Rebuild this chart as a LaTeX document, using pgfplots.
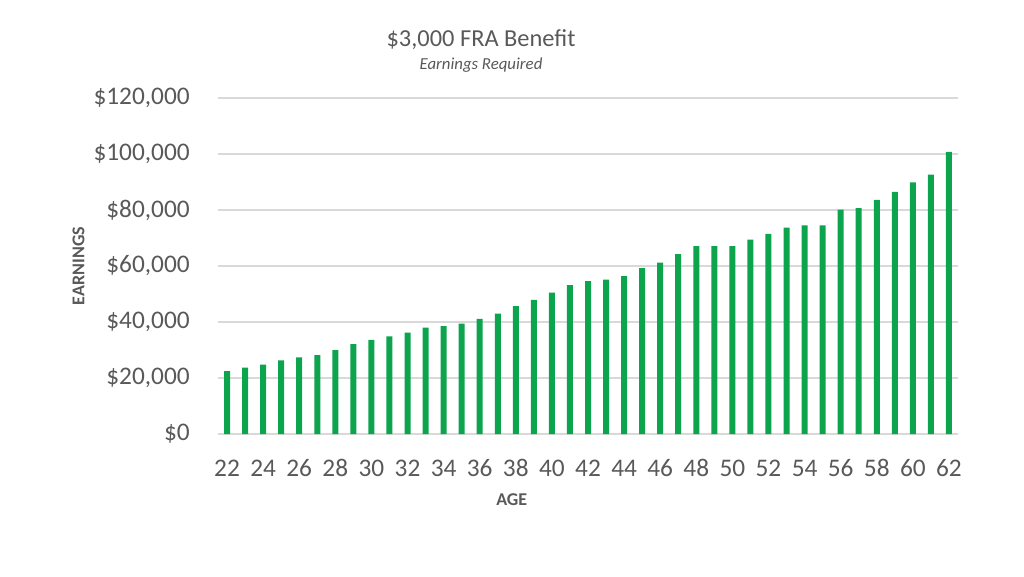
\documentclass[border=0pt]{standalone}
\usepackage{pgfplots}
\pgfplotsset{compat=1.18}
\usepackage{fontspec}
\setmainfont{Carlito}

\definecolor{barGreen}{HTML}{0CA54D}
\definecolor{txtGray}{HTML}{595959}
\definecolor{gridGray}{HTML}{D9D9D9}

\begin{document}
\begin{tikzpicture}
% page = 1024x576 px at 0.75pt per px
\path[use as bounding box] (0,0) rectangle (768pt,432pt);

\begin{axis}[
    at={(163.5pt,106.5pt)}, anchor=south west,
    scale only axis,
    width=555pt, height=252pt,
    xmin=21.5, xmax=62.5,
    ymin=0, ymax=120000,
    ytick={0,20000,...,120000},
    xtick={22,24,...,62},
    scaled y ticks=false,
    /pgf/number format/assume math mode=true,
    /pgf/number format/.cd, fixed, precision=0, 1000 sep={,},
    /pgfplots/.cd,
    yticklabel={\$\pgfmathprintnumber{\tick}},
    major tick length=0pt,
    axis x line*=bottom,
    axis y line*=left,
    x axis line style={draw=gridGray, line width=0.8pt},
    y axis line style={draw=none},
    ymajorgrids,
    grid style={draw=gridGray, line width=0.8pt},
    yticklabel style={font=\fontsize{19}{21}\selectfont, text=txtGray,
        anchor=east, inner sep=0pt, xshift=-21pt},
    xticklabel style={font=\fontsize{19}{21}\selectfont, text=txtGray,
        anchor=base, inner sep=0pt, yshift=-32pt},
]
\addplot[ybar, bar width=4.5pt, fill=barGreen, draw=none] coordinates {
  (22, 22500) (23, 23700) (24, 24800) (25, 26300) (26, 27400)
  (27, 28200) (28, 30000) (29, 32100) (30, 33600) (31, 34900)
  (32, 36200) (33, 38000) (34, 38500) (35, 39400) (36, 41100)
  (37, 43000) (38, 45700) (39, 47900) (40, 50500) (41, 53200)
  (42, 54600) (43, 55100) (44, 56400) (45, 59200) (46, 61200)
  (47, 64200) (48, 67100) (49, 67100) (50, 67100) (51, 69400)
  (52, 71500) (53, 73700) (54, 74500) (55, 74500) (56, 80100)
  (57, 80700) (58, 83600) (59, 86500) (60, 89900) (61, 92600)
  (62, 100800)
};
\end{axis}

\node[text=txtGray, font=\fontsize{18.3}{20}\selectfont, inner sep=0pt, anchor=base]
  at (360.75pt,397pt) {\$3,000 FRA Benefit};
\node[text=txtGray, font=\fontsize{12.6}{14}\selectfont\itshape, inner sep=0pt, anchor=base]
  at (360.75pt,379.5pt) {Earnings Required};
\node[text=txtGray, font=\fontsize{13.5}{15}\selectfont\bfseries, inner sep=0pt, rotate=90]
  at (58.9pt,232.5pt) {EARNINGS};
\node[text=txtGray, font=\fontsize{13.5}{15}\selectfont\bfseries, inner sep=0pt]
  at (383.8pt,57pt) {AGE};
\end{tikzpicture}
\end{document}
